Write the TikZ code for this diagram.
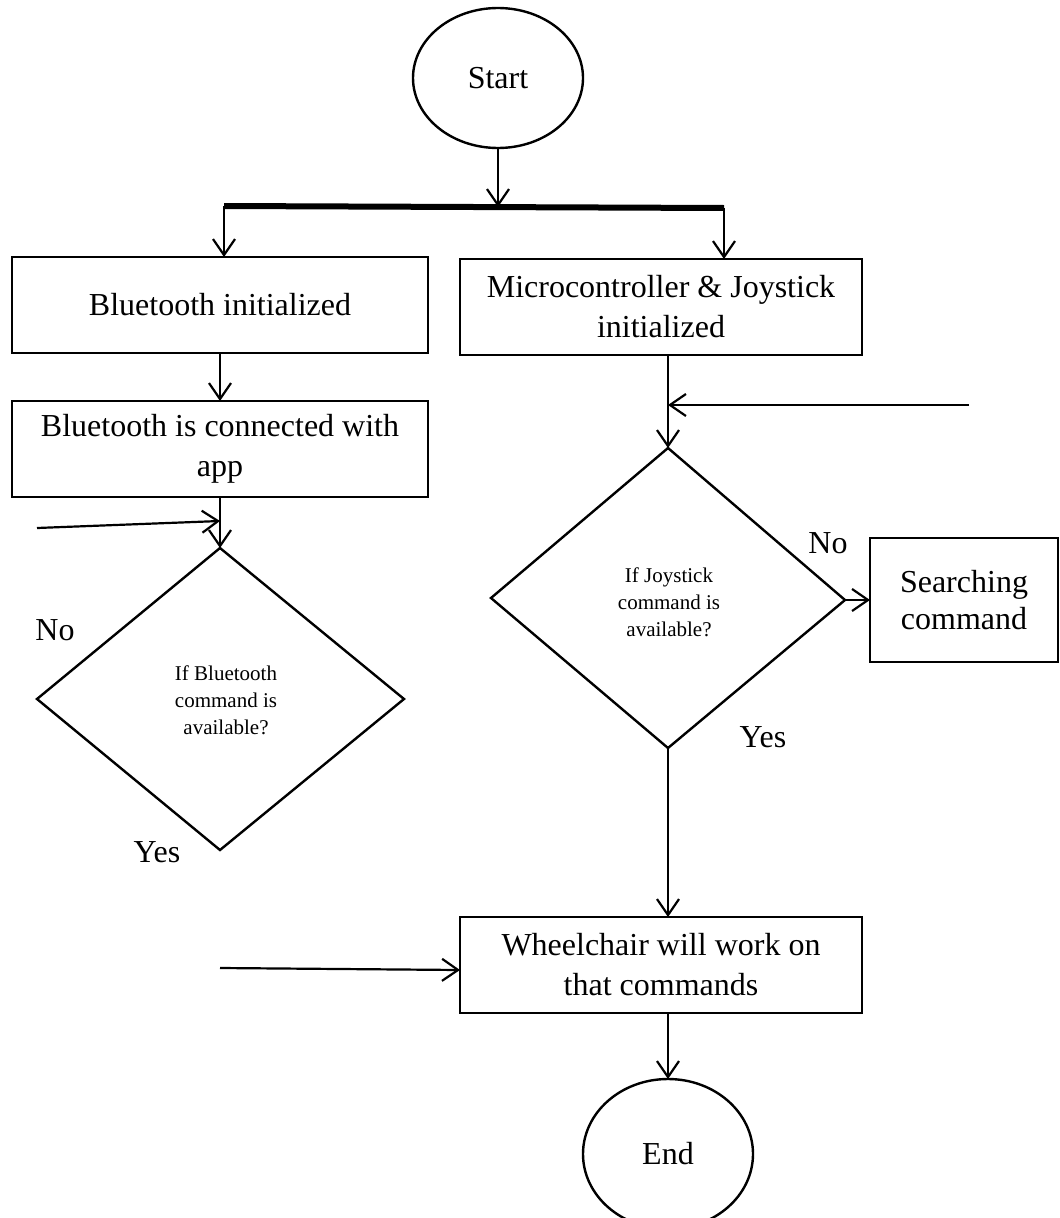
\documentclass[tikz,border=0pt]{standalone}
\usepackage{fontspec}
\setmainfont{Liberation Serif}
\usetikzlibrary{arrows.meta,shapes.geometric}
\begin{document}
\begin{tikzpicture}[x=1pt,y=-1pt,
  box/.style={draw,line width=2.8pt,rectangle,align=center,font=\fontsize{32}{40}\selectfont,inner sep=0pt,outer sep=0pt},
  term/.style={draw,line width=2.4pt,ellipse,font=\fontsize{32}{40}\selectfont,inner sep=0pt,outer sep=0pt,minimum width=170pt,minimum height=140pt},
  dtext/.style={align=center,font=\fontsize{21}{27}\selectfont,inner sep=0pt},
  lbl/.style={font=\fontsize{32}{40}\selectfont,inner sep=0pt},
  conn/.style={line width=2.2pt,-{Straight Barb[length=16pt,width=22pt,line width=2.2pt]}},
  dia/.style={line width=2.4pt,line join=miter}
]
\useasboundingbox (0,0) rectangle (1060,1218);

% terminals
\node[term] (start) at (498,78) {Start};
\node[term,minimum height=150pt] (end) at (668,1154) {End};

% boxes
\node[box,minimum width=416pt,minimum height=96pt] (box1) at (220,305) {Bluetooth initialized};
\node[box,minimum width=402pt,minimum height=96pt] (boxM) at (661,307) {Microcontroller \& Joystick\\initialized};
\node[box,minimum width=416pt,minimum height=96pt] (box2) at (220,449) {Bluetooth is connected with\\app};
\node[box,minimum width=188pt,minimum height=124pt,font=\fontsize{32}{37}\selectfont] (search) at (964,600) {Searching\\command};
\node[box,minimum width=402pt,minimum height=96pt] (wheel) at (661,965) {Wheelchair will work on\\that commands};

% diamonds
\coordinate (dLt) at (220,548);
\coordinate (dLl) at (37,699);
\coordinate (dLr) at (404,699);
\coordinate (dLb) at (220,850);
\draw[dia] (dLt) -- (dLr) -- (dLb) -- (dLl) -- cycle;
\node[dtext] (dLtext) at (226,700) {If Bluetooth\\command is\\available?};

\coordinate (dRt) at (668,448);
\coordinate (dRl) at (491,598);
\coordinate (dRr) at (845,600);
\coordinate (dRb) at (668,748);
\draw[dia] (dRt) -- (dRr) -- (dRb) -- (dRl) -- cycle;
\node[dtext] (dRtext) at (669,602) {If Joystick\\command is\\available?};

% split bar
\coordinate (barL) at (224,206);
\coordinate (barR) at (724,208);
\coordinate (barM) at (498,207);
\draw[line width=6pt] (barL) -- (barR);
\draw[conn] (start.south) -- (barM);
\draw[conn] (barL) -- (barL |- box1.north);
\draw[conn] (barR) -- (barR |- boxM.north);

% left branch
\draw[conn] (box1.south) -- (box2.north);
\draw[conn] (box2.south) -- (dLt);
\coordinate (inL) at (37,528);
\coordinate (jL) at (220,521);
\draw[conn] (inL) -- (jL);

% right branch
\draw[conn] (dRt |- boxM.south) -- (dRt);
\coordinate (inR) at (969,405);
\coordinate (jR) at (668,405);
\draw[conn] (inR) -- (jR);
\draw[conn] (dRr) -- (search.west);
\draw[conn] (dRb) -- (dRb |- wheel.north);
\coordinate (inW) at (220,968);
\coordinate (jW) at (460,970);
\draw[conn] (inW) -- (jW);
\draw[conn] (end.north |- wheel.south) -- (end.north);

% labels
\node[lbl] (noL) at (55,630) {No};
\node[lbl] (yesL) at (157,852) {Yes};
\node[lbl] (noR) at (828,543) {No};
\node[lbl] (yesR) at (763,737) {Yes};
\end{tikzpicture}
\end{document}
